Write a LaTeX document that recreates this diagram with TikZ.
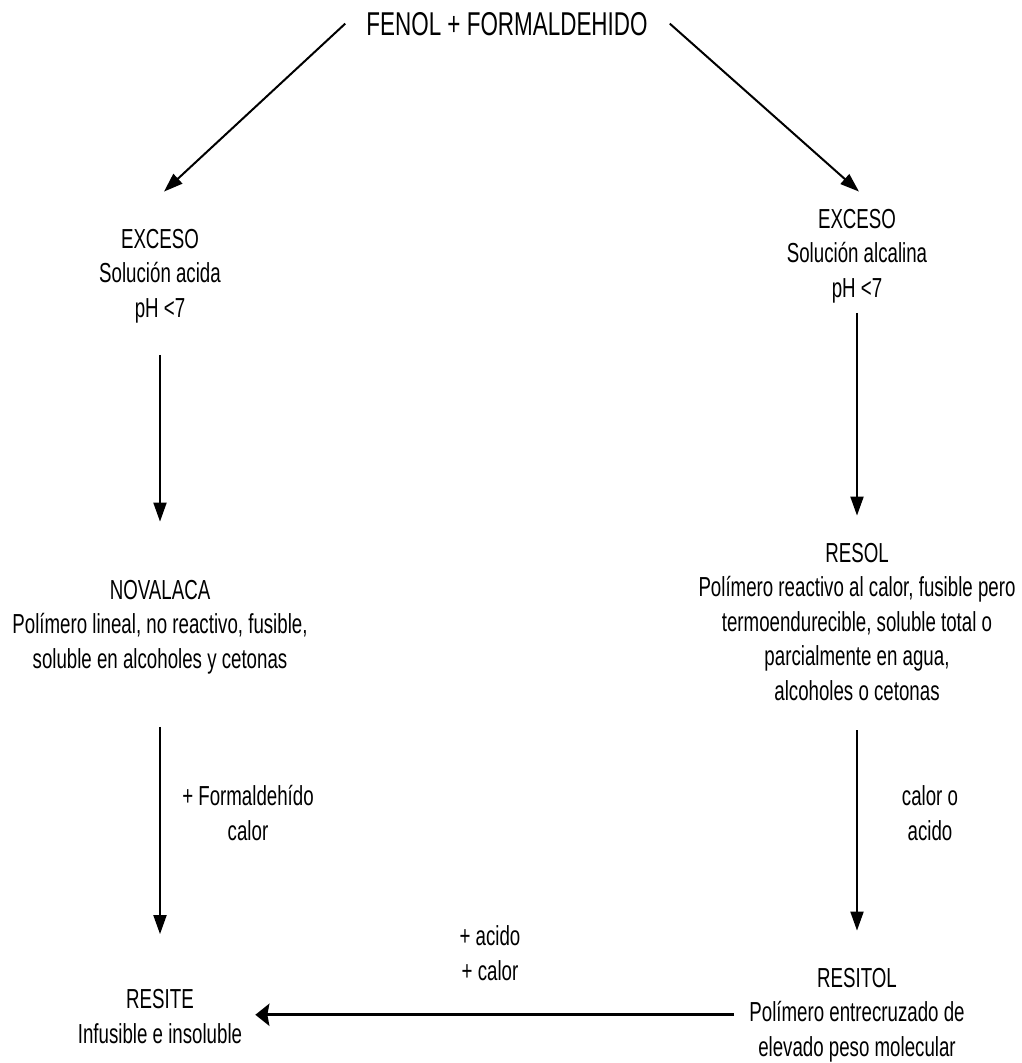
\documentclass[tikz,border=0pt]{standalone}
\usepackage{fontspec}
\setmainfont{Liberation Sans}[FakeStretch=0.68]
\usetikzlibrary{arrows.meta}

\begin{document}
\begin{tikzpicture}[x=1pt, y=-1pt,
  every node/.style = {align=center, inner sep=0pt, anchor=base,
    font=\fontsize{27.5}{34.5}\selectfont},
  flecha/.style = {line width=2pt, -{Triangle[length=19pt,width=13pt]}},
  flechagruesa/.style = {line width=3pt, -{Stealth[length=14pt,width=22pt,inset=2pt]}}]
  \useasboundingbox (0,0) rectangle (1021,1063);
  % base = last line of each node
  \node[font=\fontsize{33}{40}\selectfont] (fenol) at (507,35) {FENOL + FORMALDEHIDO};
  \node (acida) at (160,317) {EXCESO\\Solución acida\\pH <7};
  \node (alcalina) at (857,297) {EXCESO\\Solución alcalina\\pH <7};
  \node (novalaca) at (160,668) {NOVALACA\\Polímero lineal, no reactivo, fusible,\\soluble en alcoholes y cetonas};
  \node (resol) at (857,700) {RESOL\\Polímero reactivo al calor, fusible pero\\termoendurecible, soluble total o\\parcialmente en agua,\\alcoholes o cetonas};
  \node (resite) at (160,1043) {RESITE\\Infusible e insoluble};
  \node (resitol) at (857,1056) {RESITOL\\Polímero entrecruzado de\\elevado peso molecular};
  % condiciones
  \node (formal) at (248,840) {+ Formaldehído\\calor};
  \node (calor) at (930,840) {calor o\\acido};
  \node (acido) at (490,980) {+ acido\\+ calor};

  \draw[flecha] ([xshift=-21pt]fenol.west) -- ([xshift=4pt,yshift=37pt]acida.north);
  \draw[flecha] ([xshift=22pt]fenol.east) -- ([xshift=2pt,yshift=17pt]alcalina.north);
  \draw[flecha] ([yshift=-32pt]acida.south) -- ([yshift=58pt]novalaca.north);
  \draw[flecha] ([yshift=-10pt]alcalina.south) -- ([yshift=27pt]resol.north);
  \draw[flecha] ([yshift=-53pt]novalaca.south) -- ([yshift=55pt]resite.north);
  \draw[flecha] ([yshift=-30pt]resol.south) -- ([yshift=37pt]resitol.north);
  \draw[flechagruesa, shorten >=13pt] ([xshift=-15pt]resitol.west) -- (resitol.west -| resite.east);
\end{tikzpicture}
\end{document}
